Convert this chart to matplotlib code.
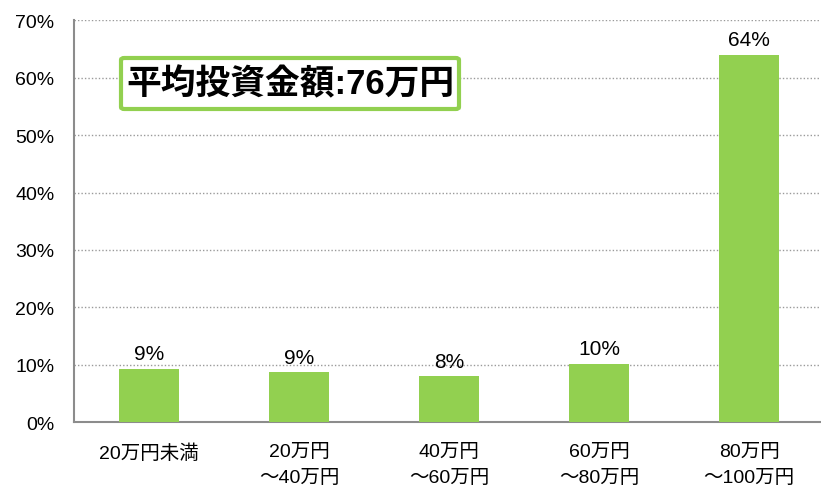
import matplotlib.pyplot as plt
from matplotlib.patches import FancyBboxPatch

# データ
categories = ['20万円未満', '20万円\n～40万円', '40万円\n～60万円', '60万円\n～80万円', '80万円\n～100万円']
shares = [9.3, 8.7, 8.0, 10.2, 64.0]
y_ticks = [0, 10, 20, 30, 40, 50, 60, 70]
summary = '平均投資金額:76万円'

fonts = ['Liberation Sans', 'Noto Sans CJK JP']
plt.rcParams['font.family'] = fonts

green = '#92D050'

fig = plt.figure(figsize=(8.21, 4.89), dpi=100)
ax = fig.add_axes([74 / 821, 0.134, 747 / 821, 0.823])

x = range(len(categories))
bars = ax.bar(x, shares, width=0.4, color=green, zorder=3)

for xi, v in zip(x, shares):
    ax.annotate(f'{round(v)}%', (xi, v), xytext=(0, 4), textcoords='offset points',
                ha='center', va='bottom', fontsize=15)

ax.set_xlim(-0.5, 4.48)
ax.set_ylim(0, 70)
ax.set_yticks(y_ticks)
ax.set_yticklabels([f'{t}%' for t in y_ticks], fontsize=14)
ax.set_xticks(list(x))
ax.set_xticklabels(categories, fontsize=14, linespacing=1.7, va='top')
ax.tick_params(axis='both', length=0)
ax.tick_params(axis='y', pad=14)
ax.tick_params(axis='x', pad=15)

ax.yaxis.grid(True, linestyle=(0, (1, 1.5)), color='#9a9a9a', linewidth=1, zorder=0)
ax.set_axisbelow(True)
for s in ['top', 'right']:
    ax.spines[s].set_visible(False)
for s in ['left', 'bottom']:
    ax.spines[s].set_color('#8c8c8c')
    ax.spines[s].set_linewidth(1.5)

# 平均の枠
box = FancyBboxPatch((121 / 821, (489 - 110) / 489), 338 / 821, 51 / 489,
                     boxstyle='round,pad=0,rounding_size=0.004', transform=fig.transFigure,
                     facecolor='white', edgecolor=green, linewidth=3, zorder=5)
fig.patches.append(box)
fig.text(290 / 821, (489 - 85) / 489, summary, ha='center', va='center',
         fontsize=25, fontweight='bold', zorder=6)

fig.savefig('out.png', dpi=100)
